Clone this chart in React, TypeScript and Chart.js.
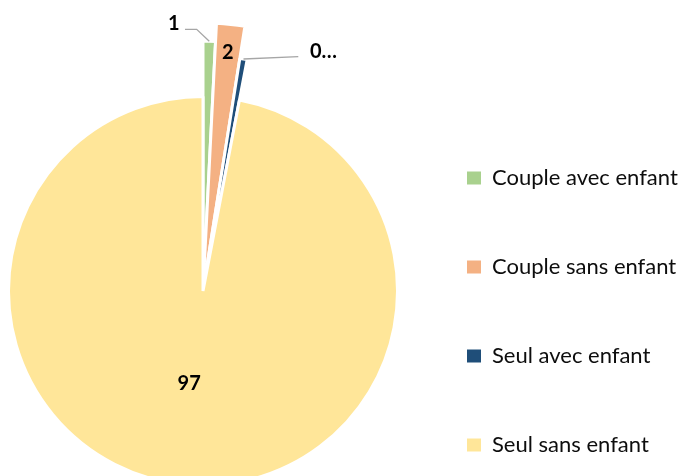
import React, { useEffect, useRef } from 'react';
import { Chart, registerables } from 'chart.js';

Chart.register(...registerables);

// ---- data ----
const categories = ['Couple avec enfant', 'Couple sans enfant', 'Seul avec enfant', 'Seul sans enfant'];
const shares = [0.8, 1.7, 0.5, 97.0];
const valueLabels = ['1', '2', '0…', '97'];

// ---- style ----
const sliceColors = ['#A9D18E', '#F4B183', '#1F4E79', '#FFE699'];
const baseRadius = 194.5;
const extraRadius = [55.3, 73.5, 41, 0];
const FONT = 'Lato, "Open Sans", sans-serif';

type Placement =
  | { mode: 'inside'; frac: number; nudge: [number, number] }
  | { mode: 'leader'; elbow: [number, number]; end: [number, number]; text: [number, number]; align: CanvasTextAlign };

const labelPlacement: Placement[] = [
  { mode: 'leader', elbow: [-12.6, -12], end: [-24.3, -12], text: [-5.5, -6], align: 'right' },
  { mode: 'inside', frac: 0.896, nudge: [0, 0] },
  { mode: 'leader', elbow: [54.8, -2.3], end: [54.8, -2.3], text: [11.7, -4.7], align: 'left' },
  { mode: 'inside', frac: 0.48, nudge: [-5, 0] },
];

// per-slice outer radius (drawn by Chart.js ArcElement)
const sliceRadiusPlugin = {
  id: 'sliceRadius',
  afterDatasetUpdate(chart: any, args: any) {
    const meta = args.meta;
    const base = meta.controller.outerRadius;
    meta.data.forEach((arc: any, i: number) => {
      arc.outerRadius = base + (extraRadius[i] || 0);
    });
  },
};

const sliceLabelPlugin = {
  id: 'sliceLabels',
  afterDatasetsDraw(chart: any) {
    const ctx: CanvasRenderingContext2D = chart.ctx;
    const meta = chart.getDatasetMeta(0);
    meta.data.forEach((arc: any, i: number) => {
      const p = arc.getProps(['x', 'y', 'startAngle', 'endAngle', 'outerRadius'], true);
      const mid = (p.startAngle + p.endAngle) / 2;
      const ro = p.outerRadius;
      const pl = labelPlacement[i];
      ctx.save();
      ctx.font = `bold 20px ${FONT}`;
      ctx.fillStyle = '#000000';
      ctx.textBaseline = 'middle';
      if (pl.mode === 'inside') {
        ctx.textAlign = 'center';
        ctx.fillText(
          valueLabels[i],
          p.x + Math.cos(mid) * ro * pl.frac + pl.nudge[0],
          p.y + Math.sin(mid) * ro * pl.frac + pl.nudge[1]
        );
      } else {
        const x0 = p.x + Math.cos(mid) * ro;
        const y0 = p.y + Math.sin(mid) * ro;
        ctx.strokeStyle = '#A6A6A6';
        ctx.lineWidth = 1.3;
        ctx.beginPath();
        ctx.moveTo(x0, y0);
        ctx.lineTo(x0 + pl.elbow[0], y0 + pl.elbow[1]);
        ctx.lineTo(x0 + pl.end[0], y0 + pl.end[1]);
        ctx.stroke();
        ctx.textAlign = pl.align;
        ctx.fillText(valueLabels[i], x0 + pl.end[0] + pl.text[0], y0 + pl.end[1] + pl.text[1]);
      }
      ctx.restore();
    });
  },
};

export default function App() {
  const ref = useRef<HTMLCanvasElement | null>(null);
  useEffect(() => {
    if (!ref.current) return;
    const defaultGen = (Chart as any).overrides.pie.plugins.legend.labels.generateLabels;
    const chart = new Chart(ref.current, {
      type: 'pie',
      data: {
        labels: categories,
        datasets: [
          {
            data: shares,
            backgroundColor: sliceColors,
            borderColor: '#FFFFFF',
            borderWidth: 3,
          } as any,
        ],
      },
      options: {
        responsive: false,
        animation: false,
        radius: baseRadius,
        layout: { padding: { left: 6, right: 1, top: 40, bottom: 0 } },
        plugins: {
          tooltip: { enabled: false },
          legend: {
            position: 'right',
            align: 'start',
            maxWidth: 278,
            title: { display: true, text: ' ', font: { size: 10 }, padding: { top: 24, bottom: 24 } },
            labels: {
              boxWidth: 14,
              boxHeight: 13,
              padding: 67,
              color: '#0D0D0D',
              font: { family: FONT, size: 22 },
              generateLabels: (c: any) => defaultGen(c).map((l: any) => ({ ...l, lineWidth: 0 })),
            },
          },
        },
      } as any,
      plugins: [sliceRadiusPlugin, sliceLabelPlugin],
    });
    return () => chart.destroy();
  }, []);
  return (
    <div style={{ position: 'fixed', left: 0, top: 0, width: 679, height: 476, overflow: 'hidden', background: '#FFFFFF' }}>
      <canvas ref={ref} width={679} height={542} style={{ display: 'block' }} />
    </div>
  );
}
